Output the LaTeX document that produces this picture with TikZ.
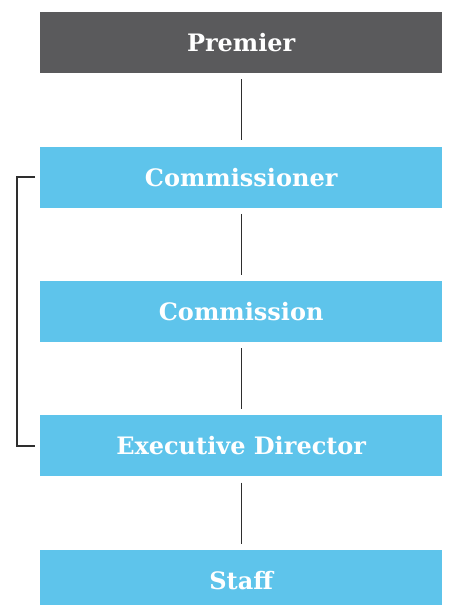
\documentclass[tikz,border=0pt]{standalone}
\usepackage{fontspec}
\setmainfont{DejaVu Serif}
\usepackage{tikz}
\usetikzlibrary{positioning}
\definecolor{HeadGray}{HTML}{5A5A5C}
\definecolor{OrgBlue}{HTML}{5EC4EB}
\definecolor{LineGray}{HTML}{2E2E2E}

\begin{document}
\begin{tikzpicture}[x=1pt,y=1pt,
  orgbox/.style={fill=OrgBlue, text=white, minimum width=402pt, minimum height=61pt,
    inner sep=0pt, font=\fontsize{24}{28}\selectfont\bfseries},
  headbox/.style={orgbox, fill=HeadGray},
  link/.style={draw=LineGray, line width=1.3pt, shorten >=6pt, shorten <=6pt},
  node distance=73pt]
\useasboundingbox (0,0) rectangle (449,-605);
% chain of offices
\node[headbox, anchor=north west] (premier) at (40,-12) {Premier};
\node[orgbox, below=of premier] (commr) {Commissioner};
\node[orgbox, below=of commr] (commn) {Commission};
\node[orgbox, below=of commn] (execdir) {Executive Director};
\node[orgbox, below=of execdir] (staff) {Staff};
\foreach \a/\b in {premier/commr,commr/commn,commn/execdir,execdir/staff}
  \draw[link] (\a) -- (\b);
% side bracket
\draw[draw=LineGray, line width=1.3pt] ([xshift=-5pt]commr.west) -- ++(-18pt,0)
  |- ([xshift=-5pt]execdir.west);
\end{tikzpicture}
\end{document}
